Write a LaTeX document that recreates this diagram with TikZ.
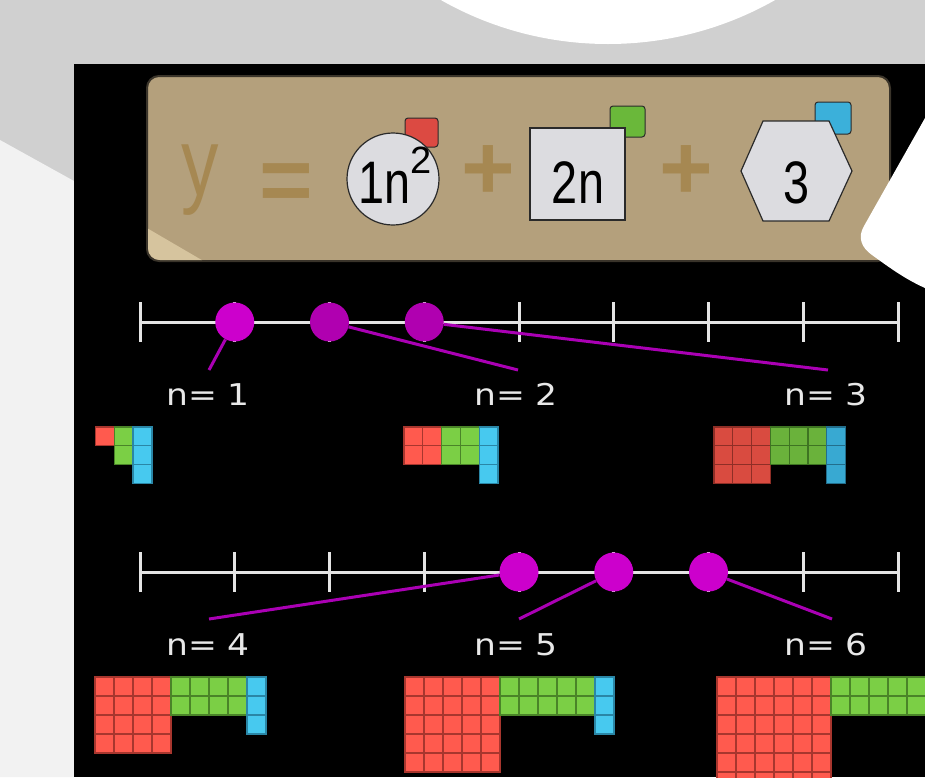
\documentclass[tikz,border=0pt]{standalone}
\usepackage{fontspec}
\setmainfont{DejaVu Sans}
\newfontfamily\condf[FakeStretch=0.78]{Liberation Sans}
\newfontfamily\plainf{Liberation Sans}
\newfontfamily\lblf[FakeStretch=1.15]{DejaVu Sans}
\definecolor{bggray}{HTML}{D0D0D0}
\definecolor{bglight}{HTML}{F2F2F2}
\definecolor{tanbox}{HTML}{B4A07C}
\definecolor{tanlight}{HTML}{D6C49E}
\definecolor{tanedge}{HTML}{3A342A}
\definecolor{ochre}{HTML}{A68852}
\definecolor{shapefill}{HTML}{DCDCE0}
\definecolor{shapeedge}{HTML}{2A2A2A}
\definecolor{tagred}{HTML}{DC4A42}
\definecolor{taggreen}{HTML}{6AB83A}
\definecolor{tagblue}{HTML}{3BB0DA}
\definecolor{linegray}{HTML}{E4E4E4}
\definecolor{lblgray}{HTML}{E8E8E8}
\definecolor{mag}{HTML}{CC00CC}
\definecolor{magd}{HTML}{B000B0}
\definecolor{magline}{HTML}{AA00B4}
\definecolor{redA}{HTML}{FF5A4E}
\definecolor{redAd}{HTML}{A8362E}
\definecolor{greenA}{HTML}{7BCF45}
\definecolor{greenAd}{HTML}{4A8428}
\definecolor{blueA}{HTML}{47C9EF}
\definecolor{blueAd}{HTML}{2A86A6}
\definecolor{redB}{HTML}{D94B40}
\definecolor{redBd}{HTML}{8E2E26}
\definecolor{greenB}{HTML}{6AB23B}
\definecolor{greenBd}{HTML}{3E7422}
\definecolor{blueB}{HTML}{38A9D2}
\definecolor{blueBd}{HTML}{226E8C}
\newcommand\myblocks[5]{%
  \foreach \i in {1,...,#4}{\foreach \j in {1,...,#4}{
    \filldraw[cellr#5] ({#1+(\i-1)*#3},{#2+(\j-1)*#3}) rectangle ++(#3,#3);}}
  \foreach \i in {1,...,#4}{\foreach \j in {1,2}{
    \filldraw[cellg#5] ({#1+(#4+\i-1)*#3},{#2+(\j-1)*#3}) rectangle ++(#3,#3);}}
  \foreach \j in {1,2,3}{
    \filldraw[cellb#5] ({#1+2*#4*#3},{#2+(\j-1)*#3}) rectangle ++(#3,#3);}
}
\begin{document}
\begin{tikzpicture}[x=1pt,y=-1pt,
  cellra/.style={fill=redA,draw=redAd,line width=1.3pt},
  cellga/.style={fill=greenA,draw=greenAd,line width=1.3pt},
  cellba/.style={fill=blueA,draw=blueAd,line width=1.3pt},
  cellrb/.style={fill=redB,draw=redBd,line width=1.3pt},
  cellgb/.style={fill=greenB,draw=greenBd,line width=1.3pt},
  cellbb/.style={fill=blueB,draw=blueBd,line width=1.3pt},
  nline/.style={draw=linegray,line width=3pt},
  mdot/.style={circle,fill=mag,minimum size=39pt,inner sep=0pt},
  lbl/.style={text=lblgray,font=\lblf\fontsize{30}{30}\selectfont,inner sep=0pt,anchor=base},
  conn/.style={draw=magline,line width=3pt},
  tagbox/.style={draw=shapeedge,line width=1pt,rounded corners=3pt},
  shp/.style={fill=shapefill,draw=shapeedge,line width=1.2pt,inner sep=0pt},
  shptext/.style={font=\condf\fontsize{60}{60}\selectfont,inner sep=0pt,anchor=base,text=black},
  eqtext/.style={font=\plainf\bfseries\fontsize{92}{92}\selectfont,inner sep=0pt,anchor=base,text=ochre}
]
\useasboundingbox (0,0) rectangle (925,777);
\clip (0,0) rectangle (925,777);
% background
\fill[bggray] (0,0) rectangle (925,777);
\fill[bglight] (0,140) -- (74,181) -- (74,777) -- (0,777) -- cycle;
\fill[white] (608,-295) circle[radius=339pt];
% black panel
\fill[black] (74,64) rectangle (925,777);
% tan equation board
\filldraw[fill=tanbox,draw=tanedge,line width=2pt,rounded corners=12pt] (147,76) rectangle (890,261);
\begin{scope}
  \clip[rounded corners=12pt] (148,77) rectangle (889,260);
  \fill[tanlight] (140,224) -- (212,266) -- (140,266) -- cycle;
\end{scope}
\node[font=\condf\fontsize{96}{96}\selectfont,inner sep=0pt,anchor=base,text=ochre] (ty) at (200,195) {y};
\node[eqtext] (teq) at (286,211) {=};
\node[eqtext] (tp1) at (488,199) {+};
\node[eqtext] (tp2) at (686,199) {+};
% tags
\filldraw[tagbox,fill=tagred] (405,118) rectangle (438,147);
\filldraw[tagbox,fill=taggreen] (610,106) rectangle (645,137);
\filldraw[tagbox,fill=tagblue] (815,102) rectangle (851,134);
% shapes
\node[shp,circle,minimum size=92pt] (c1) at (393,179) {};
\node[shp,rectangle,minimum width=95pt,minimum height=92pt] (s1) at (577.5,174) {};
\filldraw[shp] (741,171) -- (763,121) -- (829,121) -- (852,171) -- (829,221) -- (763,221) -- cycle;
\node[shptext] (t1) at (395,203) {1n\raisebox{30pt}{\plainf\fontsize{38}{38}\selectfont 2}};
\node[shptext] (t2) at (578,203) {2n};
\node[shptext] (t3) at (797,203) {3};
% number lines
\foreach \yy in {322,572}{
  \draw[nline] (140,\yy) -- (898,\yy);
  \foreach \i in {0,...,8}{\draw[nline] ({140+\i*94.75},{\yy-20}) -- ({140+\i*94.75},{\yy+20});}
}
% points
\node[mdot] (p1) at (234.75,322) {};
\node[mdot,fill=magd] (p2) at (329.5,322) {};
\node[mdot,fill=magd] (p3) at (424.25,322) {};
\node[mdot] (p4) at (519,572) {};
\node[mdot] (p5) at (613.75,572) {};
\node[mdot] (p6) at (708.5,572) {};
% labels
\node[lbl] (l1) at (208,405) {n= 1};
\node[lbl] (l2) at (516,405) {n= 2};
\node[lbl] (l3) at (826,405) {n= 3};
\node[lbl] (l4) at (208,655) {n= 4};
\node[lbl] (l5) at (516,655) {n= 5};
\node[lbl] (l6) at (826,655) {n= 6};
\coordinate (e1) at (209,370);
\coordinate (e2) at (518,370);
\coordinate (e3) at (828,370);
\coordinate (e4) at (209,619);
\coordinate (e5) at (519,619);
\coordinate (e6) at (832,619);
\draw[conn] (p1) -- (e1);
\draw[conn] (p2) -- (e2);
\draw[conn] (p3) -- (e3);
\draw[conn] (p4) -- (e4);
\draw[conn] (p5) -- (e5);
\draw[conn] (p6) -- (e6);
% blocks
\myblocks{95.5}{427}{18.8}{1}{a}
\myblocks{404}{427}{18.8}{2}{a}
\myblocks{714}{427}{18.8}{3}{b}
\myblocks{95}{677}{19}{4}{a}
\myblocks{405}{677}{19}{5}{a}
\myblocks{717}{677}{19}{6}{a}
% white shape at right
\fill[white] (925,118) -- (864,226) .. controls (857,238) and (862,248) .. (872,255) .. controls (890,268) and (905,279) .. (925,288) -- cycle;
\end{tikzpicture}
\end{document}
